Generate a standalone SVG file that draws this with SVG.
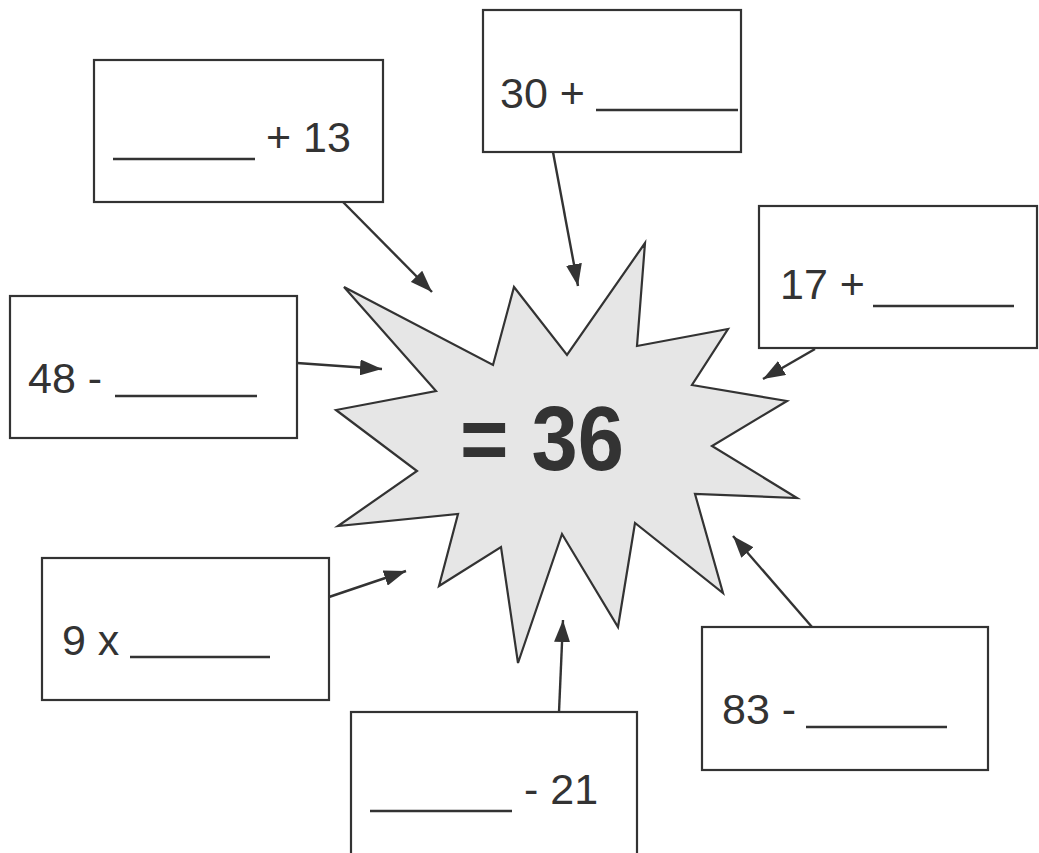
<svg xmlns="http://www.w3.org/2000/svg" width="1039" height="853" viewBox="0 0 1039 853">
<defs>
<marker id="ah" viewBox="0 0 22 16" refX="22" refY="8" markerWidth="22" markerHeight="16" markerUnits="userSpaceOnUse" orient="auto">
<path d="M0,0 L22,8 L0,16 Z" fill="#333"/>
</marker>
<style>
.box{fill:#fff;stroke:#333;stroke-width:2.2}
.lbl{font-family:"Liberation Sans",Arial,sans-serif;font-size:43px;fill:#333}
.ul{stroke:#333;stroke-width:2.5}
.con{stroke:#333;stroke-width:2.4;fill:none;marker-end:url(#ah)}
</style>
</defs>
<rect width="1039" height="853" fill="#fff"/>
<g id="star">
<polygon points="344,287 493,365 514,287 567,355 645,243 637,346 728,329 692,385 787,401 712,446 797,498 695,494 723,593 635,523 618,627 562,534 518,663 501,547 439,586 458,514 338,526 417,471 336,410 436,391" fill="#e6e6e6" stroke="#333" stroke-width="2.2" stroke-linejoin="miter"/>
<text x="460" y="470" font-family="'Liberation Sans',Arial,sans-serif" font-weight="bold" font-size="90" fill="#333" textLength="164" lengthAdjust="spacingAndGlyphs">= 36</text>
</g>
<g id="connectors">
<path d="M343,202 L432,292" class="con"/>
<path d="M553,152 L578,286" class="con"/>
<path d="M815,349 L763,379" class="con"/>
<path d="M297,363 L382,369" class="con"/>
<path d="M329,597 L406,571" class="con"/>
<path d="M559,712 L563,620" class="con"/>
<path d="M812,627 L733,536" class="con"/>
</g>
<g id="boxA">
<rect class="box" x="94" y="60" width="289" height="142"/>
<line class="ul" x1="113" y1="159" x2="255" y2="159"/>
<text class="lbl" x="266" y="152">+ 13</text>
</g>
<g id="boxB">
<rect class="box" x="483" y="10" width="258" height="142"/>
<text class="lbl" x="500" y="108">30 +</text>
<line class="ul" x1="596" y1="110" x2="738" y2="110"/>
</g>
<g id="boxC">
<rect class="box" x="759" y="206" width="278" height="142"/>
<text class="lbl" x="780" y="299">17 +</text>
<line class="ul" x1="873" y1="306" x2="1014" y2="306"/>
</g>
<g id="boxD">
<rect class="box" x="10" y="296" width="287" height="142"/>
<text class="lbl" x="28" y="393">48 -</text>
<line class="ul" x1="115" y1="396" x2="257" y2="396"/>
</g>
<g id="boxE">
<rect class="box" x="42" y="558" width="287" height="142"/>
<text class="lbl" x="62" y="655">9 x</text>
<line class="ul" x1="130" y1="657" x2="270" y2="657"/>
</g>
<g id="boxF">
<rect class="box" x="351" y="712" width="286" height="160"/>
<line class="ul" x1="370" y1="811" x2="512" y2="811"/>
<text class="lbl" x="524" y="804">- 21</text>
</g>
<g id="boxG">
<rect class="box" x="702" y="627" width="286" height="143"/>
<text class="lbl" x="722" y="724">83 -</text>
<line class="ul" x1="806" y1="727" x2="947" y2="727"/>
</g>
</svg>
